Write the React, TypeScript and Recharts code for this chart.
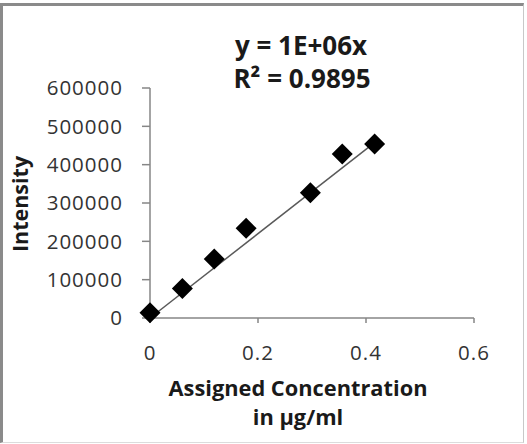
import { ReferenceLine, Scatter, ScatterChart, XAxis, YAxis } from 'recharts'

// assigned concentration (µg/ml) and measured intensity
const concentration = [0, 0.06, 0.119, 0.178, 0.297, 0.356, 0.416]
const intensity = [14000, 77000, 154000, 234000, 327000, 428000, 454000]

// linear trendline through origin, endpoints
const trendX = [0, 0.42]
const trendY = [0, 462000]

const xTicks = [0, 0.2, 0.4, 0.6]
const yTicks = [0, 100000, 200000, 300000, 400000, 500000, 600000]

const equationText = 'y = 1E+06x'
const r2Text = 'R² = 0.9895'

const points = concentration.map((x, i) => ({ x, y: intensity[i] }))

const FONT = '"Open Sans", sans-serif'
const AXIS = '#868686'

const Diamond = (props: { cx?: number; cy?: number }) => {
  const { cx = 0, cy = 0 } = props
  const r = 10.5
  return (
    <polygon
      points={`${cx},${cy - r} ${cx + r},${cy} ${cx},${cy + r} ${cx - r},${cy}`}
      fill="#000"
    />
  )
}

const overlay = (top: number, left: number, size: number) =>
  ({
    position: 'absolute',
    top,
    left,
    transform: 'translate(-50%, -50%)',
    fontFamily: FONT,
    fontWeight: 700,
    fontSize: size,
    color: '#1a1a1a',
    whiteSpace: 'nowrap',
    lineHeight: 1,
  }) as const

export default function App() {
  const tick = { fontFamily: FONT, fontSize: 20.5, fill: '#333', letterSpacing: 1 }
  return (
    <div
      style={{
        position: 'absolute',
        left: 0,
        top: 0,
        width: 527,
        height: 444,
        background: '#fff',
      }}
    >
      <div
        style={{
          position: 'absolute',
          left: 0,
          top: 3,
          width: 524,
          height: 440,
          borderTop: '3px solid #8a8a8a',
          borderLeft: '3px solid #8a8a8a',
          borderRight: '1px solid #c8c8c8',
          borderBottom: '1px solid #dcdcdc',
          boxSizing: 'border-box',
        }}
      />
      <ScatterChart
        width={527}
        height={444}
        margin={{ top: 88, right: 53, bottom: 76, left: 0 }}
        style={{ position: 'absolute', left: 0, top: 0 }}
      >
        <XAxis
          type="number"
          dataKey="x"
          domain={[0, 0.6]}
          ticks={xTicks}
          height={50}
          tick={tick}
          tickSize={5}
          tickMargin={22}
          stroke={AXIS}
          axisLine={{ stroke: AXIS, strokeWidth: 1.5 }}
          tickLine={{ stroke: AXIS, strokeWidth: 1.5 }}
        />
        <YAxis
          type="number"
          dataKey="y"
          domain={[0, 600000]}
          ticks={yTicks}
          width={150}
          tick={tick}
          tickSize={8}
          tickMargin={19}
          stroke={AXIS}
          axisLine={{ stroke: AXIS, strokeWidth: 1.5 }}
          tickLine={{ stroke: AXIS, strokeWidth: 1.5 }}
        />
        <ReferenceLine
          segment={[
            { x: trendX[0], y: trendY[0] },
            { x: trendX[1], y: trendY[1] },
          ]}
          stroke="#5a5a5a"
          strokeWidth={1.5}
        />
        <Scatter data={points} shape={Diamond} isAnimationActive={false} />
      </ScatterChart>
      <div style={overlay(45, 301, 26)}>{equationText}</div>
      <div style={overlay(78, 302, 26)}>{r2Text}</div>
      <div style={{ ...overlay(204, 20, 21.5), transform: 'translate(-50%, -50%) rotate(-90deg)' }}>
        Intensity
      </div>
      <div style={overlay(388, 298, 21.8)}>Assigned Concentration</div>
      <div style={overlay(417, 298, 21.8)}>in µg/ml</div>
    </div>
  )
}
